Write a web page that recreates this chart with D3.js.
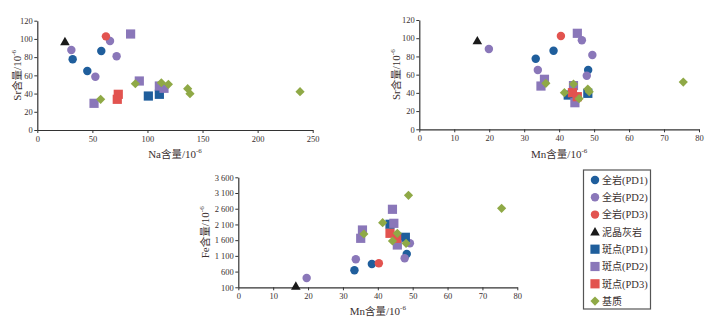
<!DOCTYPE html>
<html><head><meta charset="utf-8">
<script src="https://cdn.jsdelivr.net/npm/d3@7"></script>
<style>
html,body{margin:0;padding:0;background:#fff;}
svg{display:block;}
</style>
</head><body>
<svg id="c" width="717" height="322"></svg>
<script>
// ---------- DATA ----------
const seriesNames = ["全岩(PD1)","全岩(PD2)","全岩(PD3)","泥晶灰岩","斑点(PD1)","斑点(PD2)","斑点(PD3)","基质"];

// [series, Na, Sr]
const naSrData = [
  ["全岩(PD1)",32.1,77.6],["全岩(PD1)",58.1,86.7],["全岩(PD1)",45.4,64.8],
  ["全岩(PD2)",30.9,87.8],["全岩(PD2)",66.0,97.7],["全岩(PD2)",72.0,80.9],["全岩(PD2)",52.7,58.5],
  ["全岩(PD3)",62.3,102.8],
  ["泥晶灰岩",25.1,97.0],
  ["斑点(PD1)",100.8,37.3],["斑点(PD1)",110.8,39.2],
  ["斑点(PD2)",84.7,105.4],["斑点(PD2)",92.6,53.8],["斑点(PD2)",51.5,29.3],["斑点(PD2)",110.8,48.3],["斑点(PD2)",115.0,45.8],
  ["斑点(PD3)",73.5,39.2],["斑点(PD3)",72.6,33.7],
  ["基质",57.5,33.7],["基质",89.0,50.8],["基质",112.6,51.9],["基质",119.0,50.2],["基质",136.5,45.4],["基质",138.6,39.9],["基质",238.5,42.1]
];

// [series, Mn, Sr]
const mnSrData = [
  ["全岩(PD1)",38.4,86.3],["全岩(PD1)",33.3,77.5],["全岩(PD1)",48.3,65.1],
  ["全岩(PD2)",19.9,88.1],["全岩(PD2)",46.5,97.7],["全岩(PD2)",49.5,81.6],["全岩(PD2)",33.9,65.1],["全岩(PD2)",47.9,58.8],
  ["全岩(PD3)",40.5,102.4],
  ["泥晶灰岩",16.6,97.3],
  ["斑点(PD1)",42.6,37.6],["斑点(PD1)",48.2,39.5],
  ["斑点(PD2)",45.2,105.4],["斑点(PD2)",35.8,54.9],["斑点(PD2)",34.8,47.5],["斑点(PD2)",44.1,48.0],["斑点(PD2)",44.5,29.2],
  ["斑点(PD3)",43.8,40.2],["斑点(PD3)",45.2,35.8],
  ["基质",36.2,50.5],["基质",44.1,49.7],["基质",41.5,40.2],["基质",45.7,33.6],["基质",48.2,44.2],["基质",48.6,41.3],["基质",75.5,51.9]
];

// [series, Mn, Fe]
const mnFeData = [
  ["全岩(PD1)",48.3,1160],["全岩(PD1)",38.3,841],["全岩(PD1)",33.3,641],
  ["全岩(PD2)",49.2,1500],["全岩(PD2)",47.7,1023],["全岩(PD2)",33.7,991],["全岩(PD2)",19.6,396],
  ["全岩(PD3)",40.3,864],
  ["泥晶灰岩",16.5,140],
  ["斑点(PD1)",43.5,2105],["斑点(PD1)",47.9,1691],
  ["斑点(PD2)",44.2,2582],["斑点(PD2)",44.6,2136],["斑点(PD2)",35.6,1923],["斑点(PD2)",35.1,1659],["斑点(PD2)",45.6,1446],
  ["斑点(PD3)",43.5,1818],["斑点(PD3)",45.4,1659],
  ["基质",48.8,3027],["基质",41.4,2155],["基质",36.0,1796],["基质",45.6,1818],["基质",44.2,1573],["基质",48.1,1500],["基质",75.5,2614]
];

const naTicks = [0,50,100,150,200,250];
const srTicks = [0,20,40,60,80,100,120];
const mnTicks = [0,10,20,30,40,50,60,70,80];
const feTicks = [100,600,1100,1600,2100,2600,3100,3600];

// ---------- STYLE ----------
const styles = {
  "全岩(PD1)":{shape:"circle",color:"#1f5e9c"},
  "全岩(PD2)":{shape:"circle",color:"#8a77b9"},
  "全岩(PD3)":{shape:"circle",color:"#e2534f"},
  "泥晶灰岩":{shape:"triangle",color:"#1a1a1a"},
  "斑点(PD1)":{shape:"square",color:"#1f5e9c"},
  "斑点(PD2)":{shape:"square",color:"#8a77b9"},
  "斑点(PD3)":{shape:"square",color:"#e2534f"},
  "基质":{shape:"diamond",color:"#8fa946"}
};
const serif = "'Liberation Serif','Times New Roman','Noto Sans CJK SC',serif";
const textCol = "#3a3030";
const axisCol = "#333";

const svg = d3.select("#c");

function markerPath(shape){
  if(shape==="circle") return d3.symbol(d3.symbolCircle, 56)();
  if(shape==="square") return "M-4.6,-4.6H4.6V4.6H-4.6Z";
  if(shape==="diamond") return "M0,-4.6L4.6,0L0,4.6L-4.6,0Z";
  if(shape==="triangle") return "M0,-4.8L4.8,3.6L-4.8,3.6Z";
}

function fmtFe(v){
  return v>=1000 ? Math.floor(v/1000)+" "+String(v%1000).padStart(3,"0") : String(v);
}

function addLabel(g, x, y, name, rotate){
  const t = g.append("text")
    .attr("font-family", serif).attr("font-size", 11).attr("fill", textCol)
    .attr("text-anchor","middle");
  if(rotate){ t.attr("transform",`translate(${x},${y}) rotate(-90)`); }
  else { t.attr("x",x).attr("y",y); }
  t.append("tspan").text(name);
  t.append("tspan").attr("font-family","'Noto Sans CJK SC',sans-serif").attr("font-size",10.5).text("含量");
  t.append("tspan").text("/10");
  t.append("tspan").attr("dy",-4.5).attr("font-size",7).text("-6");
}

function chart(opt){
  const x = d3.scaleLinear().domain(opt.xDomain).range([opt.left,opt.right]);
  const y = d3.scaleLinear().domain(opt.yDomain).range([opt.bottom,opt.top]);
  const g = svg.append("g");
  const xa = g.append("g").attr("transform",`translate(0,${opt.bottom})`)
    .call(d3.axisBottom(x).tickValues(opt.xTicks).tickSize(3).tickPadding(3).tickSizeOuter(0));
  const ya = g.append("g").attr("transform",`translate(${opt.left},0)`)
    .call(d3.axisLeft(y).tickValues(opt.yTicks).tickSize(3).tickPadding(1.5).tickSizeOuter(0).tickFormat(opt.yFmt||(d=>d)));
  [xa,ya].forEach(a=>{
    a.selectAll("path").attr("stroke",axisCol).attr("stroke-width",1.2);
    a.selectAll("line").attr("stroke",axisCol);
    a.selectAll("text").attr("font-family",serif).attr("font-size",8.5).attr("fill",textCol);
  });
  seriesNames.forEach(s=>{
    const st = styles[s];
    g.append("g").selectAll("path").data(opt.data.filter(d=>d[0]===s)).join("path")
      .attr("d", markerPath(st.shape))
      .attr("transform", d=>`translate(${x(d[1])},${y(d[2])})`)
      .attr("fill", st.color);
  });
  addLabel(g, (opt.left+opt.right)/2, opt.xLabelY, opt.xName, false);
  addLabel(g, opt.yLabelX, (opt.top+opt.bottom)/2, opt.yName, true);
}

chart({data:naSrData,xDomain:[0,250],yDomain:[0,120],xTicks:naTicks,yTicks:srTicks,
  left:37.3,right:312.7,top:20.7,bottom:130,xName:"Na",yName:"Sr",xLabelY:157.5,yLabelX:20.5});
chart({data:mnSrData,xDomain:[0,80],yDomain:[0,120],xTicks:mnTicks,yTicks:srTicks,
  left:419.3,right:699,top:20,bottom:129.3,xName:"Mn",yName:"Sr",xLabelY:157.5,yLabelX:399.5});
chart({data:mnFeData,xDomain:[0,80],yDomain:[100,3600],xTicks:mnTicks,yTicks:feTicks,yFmt:fmtFe,
  left:238.3,right:517.3,top:177.3,bottom:287.3,xName:"Mn",yName:"Fe",xLabelY:314.5,yLabelX:208.5});

// ---------- LEGEND ----------
const lg = svg.append("g");
lg.append("rect").attr("x",583.5).attr("y",170).attr("width",67).attr("height",139)
  .attr("fill","#fff").attr("stroke","#555").attr("stroke-width",1.2);
seriesNames.forEach((s,i)=>{
  const yy = 180 + i*17.3;
  const st = styles[s];
  lg.append("path").attr("d",markerPath(st.shape)).attr("transform",`translate(595,${yy})`).attr("fill",st.color);
  const t = lg.append("text").attr("x",602).attr("y",yy+3.8).attr("font-size",10).attr("fill",textCol);
  const m = s.match(/^([^(]+)(\(.*\))?$/);
  t.append("tspan").attr("font-family","'Noto Sans CJK SC',sans-serif").text(m[1]);
  if(m[2]) t.append("tspan").attr("font-family",serif).attr("font-size",10.5).text(m[2]);
});
</script>
</body></html>
